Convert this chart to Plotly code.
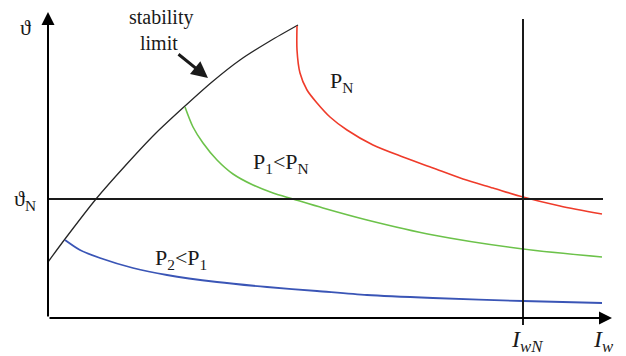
import plotly.graph_objects as go

# Data (diagram units: x = excitation current I_w, y = load angle theta)
limit_x = [0, 17, 48, 77, 107, 137, 164, 192, 222, 250]
limit_y = [56, 79, 119, 152, 184, 212, 236, 258, 277, 293]

pn_x = [249, 249, 252, 259, 269, 282, 299, 325, 355, 385, 415, 445, 475, 512, 554]
pn_y = [292, 268, 245, 228, 215, 201, 188, 173, 161, 150, 139, 130, 121, 112, 104]

p1_x = [137, 145, 155, 169, 185, 205, 225, 245, 275, 319, 385, 475, 554]
p1_y = [211, 191, 175, 158, 144, 133, 125, 119, 110, 98, 83, 69, 61]

p2_x = [17, 32, 52, 85, 119, 169, 219, 269, 319, 385, 475, 554]
p2_y = [78, 68, 60, 50, 43, 36, 31, 27, 23, 20, 17, 15]

theta_N = 119
I_wN = 475

FONT = "Times New Roman, Liberation Serif, serif"

fig = go.Figure()

fig.add_trace(go.Scatter(x=limit_x, y=limit_y, mode="lines",
                         line=dict(color="#262626", width=1.3, shape="spline", smoothing=0.8)))
fig.add_trace(go.Scatter(x=pn_x, y=pn_y, mode="lines",
                         line=dict(color="#ef3b2a", width=1.6, shape="spline", smoothing=0.8)))
fig.add_trace(go.Scatter(x=p1_x, y=p1_y, mode="lines",
                         line=dict(color="#6cc24a", width=1.6, shape="spline", smoothing=0.8)))
fig.add_trace(go.Scatter(x=p2_x, y=p2_y, mode="lines",
                         line=dict(color="#3a55b6", width=1.8, shape="spline", smoothing=0.8)))

# reference lines
fig.add_shape(type="line", x0=0, x1=555, y0=theta_N, y1=theta_N,
              line=dict(color="#1a1a1a", width=2))
fig.add_shape(type="line", x0=I_wN, x1=I_wN, y0=-7, y1=299,
              line=dict(color="#1a1a1a", width=2))

# axes with arrows
fig.add_annotation(x=0, y=306, ax=0, ay=0, xref="x", yref="y", axref="x", ayref="y",
                   showarrow=True, arrowhead=2, arrowsize=1.3, arrowwidth=2,
                   arrowcolor="#000", text="")
fig.add_annotation(x=564, y=0, ax=0, ay=0, xref="x", yref="y", axref="x", ayref="y",
                   showarrow=True, arrowhead=2, arrowsize=1.3, arrowwidth=2,
                   arrowcolor="#000", text="")

# stability limit arrow
fig.add_annotation(x=160, y=240, ax=129, ay=265, xref="x", yref="y", axref="x", ayref="y",
                   showarrow=True, arrowhead=2, arrowsize=1.1, arrowwidth=3,
                   arrowcolor="#1a1a1a", text="")

def label(x, y, text, size=20):
    fig.add_annotation(x=x, y=y, text=text, showarrow=False, borderpad=0,
                       font=dict(family=FONT, size=size, color="#1a1a1a"))

label(113, 301, "stability", 20)
label(111, 275, "limit", 20)
label(293, 236, "P<sub>N</sub>", 22)
label(233, 155, "P<sub>1</sub>&lt;P<sub>N</sub>", 22)
label(133, 59, "P<sub>2</sub>&lt;P<sub>1</sub>", 22)
label(-23, 291, "ϑ", 22)
label(-23, 118, "ϑ<sub>N</sub>", 22)
label(479, -23, "<i>I<sub>wN</sub></i>", 24)
label(555, -23, "<i>I<sub>w</sub></i>", 24)

# page body has an 8px margin: figure is 618x348 and ranges are set so the
# diagram sits where it does in the reference
fig.update_layout(
    width=618, height=348,
    margin=dict(l=0, r=0, t=0, b=0),
    paper_bgcolor="white", plot_bgcolor="white",
    showlegend=False,
    font=dict(family=FONT),
    xaxis=dict(range=[-40, 578], visible=False, fixedrange=True),
    yaxis=dict(range=[-38, 310], visible=False, fixedrange=True),
)

fig.write_html("out.html")
